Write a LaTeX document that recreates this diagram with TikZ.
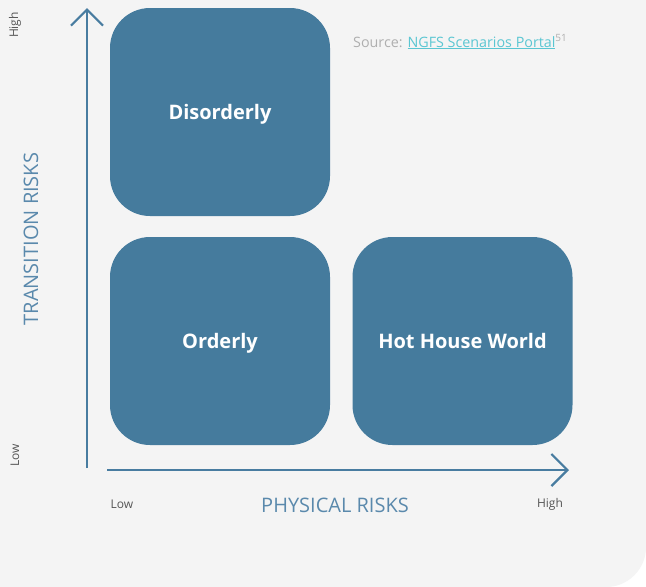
\documentclass[tikz,border=0pt]{standalone}
\usepackage{fontspec}
\setmainfont{Open Sans}
\usepackage{xcolor}
\usetikzlibrary{arrows.meta}
\usetikzlibrary{positioning}
\definecolor{bgcol}{RGB}{244,244,244}
\definecolor{boxblue}{RGB}{69,123,157}
\definecolor{axisblue}{RGB}{72,124,160}
\definecolor{titleblue}{RGB}{90,137,172}
\definecolor{lowgray}{RGB}{85,85,85}
\definecolor{srcgray}{RGB}{175,175,175}
\definecolor{linkcyan}{RGB}{90,198,210}
\tikzset{
  scenario/.style={fill=boxblue, rounded corners=40pt, minimum width=220pt,
    minimum height=208pt, text height=16pt, text depth=2pt,
    text=white, font=\fontsize{20}{24}\selectfont\bfseries},
  axis/.style={draw=axisblue, line width=2.2pt,
    -{Straight Barb[length=16pt,width=32pt,line width=2.2pt]}},
  ticklabel/.style={text=lowgray, font=\fontsize{12}{14}\selectfont},
  axislabel/.style={text=titleblue, font=\fontsize{20}{24}\selectfont}
}
\begin{document}
\begin{tikzpicture}[x=1pt,y=-1pt]
  % background with rounded lower right corner
  \fill[white] (0,0) rectangle (646,587);
  \fill[bgcol] (0,0) -- (646,0) -- (646,547) arc[start angle=0,end angle=90,radius=40] -- (0,587) -- cycle;
  \useasboundingbox (0,0) rectangle (646,587);

  % draw axes
  \coordinate (vlow) at (87,468);
  \coordinate (vhigh) at (87,8);
  \coordinate (hlow) at (107,470);
  \coordinate (hhigh) at (569,470);
  \draw[axis] (vlow) -- (vhigh);
  \draw[axis] (hlow) -- (hhigh);

  % scenario boxes
  \node[scenario] (disorderly) at (220,112) {Disorderly};
  \node[scenario] (orderly) at (220,341) {Orderly};
  \node[scenario] (hothouse) at (462.5,341) {Hot House World};

  % axis labels
  \node[axislabel, rotate=90] (transition) at (31,239) {TRANSITION RISKS};
  \node[axislabel] (physical) at (335,505) {PHYSICAL RISKS};
  \node[ticklabel, rotate=90] (vhighlab) at (15,25) {High};
  \node[ticklabel, rotate=90] (vlowlab) at (15,455) {Low};
  \node[ticklabel] (hlowlab) at (122,504) {Low};
  \node[ticklabel] (hhighlab) at (550,504) {High};

  % source
  \node[anchor=west, inner sep=0pt, font=\fontsize{14.3}{16}\selectfont] (source) at (353,42)
    {\textcolor{srcgray}{Source: }\textcolor{linkcyan}{\underline{NGFS Scenarios Portal}}\textcolor{srcgray}{\textsuperscript{51}}};
\end{tikzpicture}
\end{document}
